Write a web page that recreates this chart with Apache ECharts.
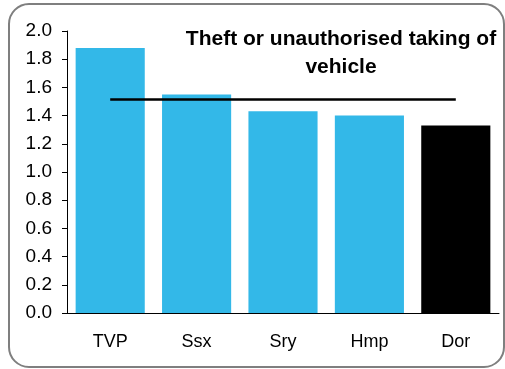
<!DOCTYPE html>
<html><head><meta charset="utf-8">
<script src="https://cdn.jsdelivr.net/npm/echarts@6/dist/echarts.min.js"></script>
<style>html,body{margin:0;padding:0;background:#fff}#c{width:505px;height:369px}</style>
</head><body><div id="c"></div>
<script>
var categories = ['TVP', 'Ssx', 'Sry', 'Hmp', 'Dor'];
var values = [1.88, 1.55, 1.43, 1.40, 1.33];
var average = [1.515, 1.515, 1.515, 1.515, 1.515];
var yTicks = [0, 0.2, 0.4, 0.6, 0.8, 1.0, 1.2, 1.4, 1.6, 1.8, 2.0];
var titleText = 'Theft or unauthorised taking of\nvehicle';

var chart = echarts.init(document.getElementById('c'), null, {renderer: 'canvas'});
chart.setOption({
  animation: false,
  graphic: [{
    type: 'rect', left: 8, top: 3, z: -1,
    shape: {width: 495, height: 363, r: 20},
    style: {fill: '#fff', stroke: '#7f7f7f', lineWidth: 2}
  }],
  title: {
    text: titleText, left: 336, top: 20, textAlign: 'center',
    textStyle: {fontFamily: 'Liberation Sans, Arial', fontSize: 21, fontWeight: 'bold', color: '#000', lineHeight: 28}
  },
  grid: {left: 67, right: 6, top: 31, bottom: 56},
  xAxis: {
    type: 'category', data: categories,
    axisLine: {lineStyle: {color: '#000', width: 1}},
    axisTick: {show: false},
    axisLabel: {color: '#000', fontFamily: 'Liberation Sans, Arial', fontSize: 18, margin: 20}
  },
  yAxis: {
    type: 'value', min: 0, max: 2, interval: 0.2,
    axisLine: {show: true, lineStyle: {color: '#000', width: 1}},
    axisTick: {show: true, length: 5, lineStyle: {color: '#000'}},
    splitLine: {show: false},
    axisLabel: {color: '#000', fontFamily: 'Liberation Sans, Arial', fontSize: 19, margin: 15,
      formatter: function (v) { return v.toFixed(1); }}
  },
  series: [{
    type: 'bar', data: values.map(function (v, i) {
      return {value: v, itemStyle: {color: categories[i] === 'Dor' ? '#000000' : '#33b8e8'}};
    }),
    barWidth: '80%'
  }, {
    type: 'line', data: average, symbol: 'none',
    lineStyle: {color: '#000', width: 2.5}, z: 5
  }]
});
</script></body></html>
